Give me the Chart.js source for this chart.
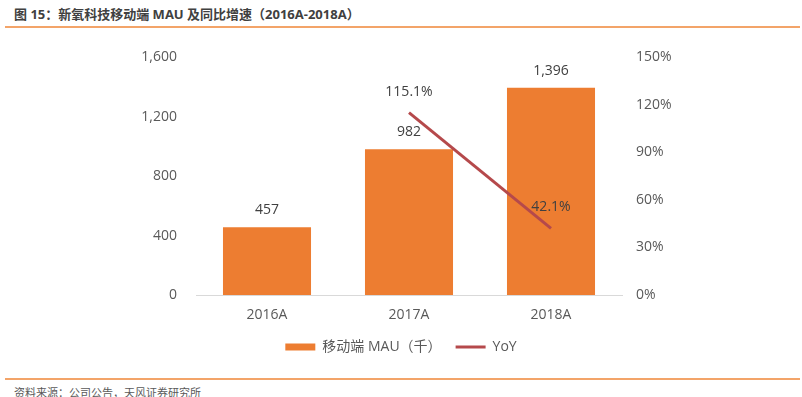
<!DOCTYPE html>
<html>
<head>
<meta charset="utf-8">
<script src="https://cdn.jsdelivr.net/npm/chart.js@4.4.0/dist/chart.umd.min.js"></script>
<style>
    body { margin: 0; width: 802px; height: 397px; background: #fff; position: relative; overflow: hidden; font-family: 'Open Sans', 'Noto Sans CJK SC', sans-serif; }
    .titulo { position: absolute; left: 14px; top: 4px; font-size: 13px; font-weight: bold; color: #404040; white-space: nowrap; }
    .linha-topo { position: absolute; left: 5px; right: 2px; top: 26px; height: 2px; background: #F3A469; }
    .linha-base { position: absolute; left: 5px; right: 2px; top: 378px; height: 2px; background: #F3A469; }
    .fonte { position: absolute; left: 14px; top: 384px; font-size: 11px; color: #595959; white-space: nowrap; }
    .area { position: absolute; left: 0; top: 30px; width: 802px; height: 340px; }
</style>
</head>
<body>
<div class="titulo">图 15：新氧科技移动端 MAU 及同比增速（2016A-2018A）</div>
<div class="linha-topo"></div>
<div class="area"><canvas id="meuGrafico"></canvas></div>
<div class="linha-base"></div>
<div class="fonte">资料来源：公司公告，天风证券研究所</div>
<script>
const anos = ['2016A', '2017A', '2018A'];
const mau = [457, 982, 1396];
const yoy = [null, 115.1, 42.1];
const ticksMau = [0, 400, 800, 1200, 1600];
const ticksYoy = [0, 30, 60, 90, 120, 150];

const fonte = "'Open Sans', 'Noto Sans CJK SC', sans-serif";

document.addEventListener('DOMContentLoaded', function () {
    const ctx = document.getElementById('meuGrafico');

    // rotulos de dados acima das barras e da linha
    const rotulos = {
        id: 'rotulos',
        afterDatasetsDraw(chart) {
            const c = chart.ctx;
            c.save();
            c.font = '14px ' + fonte;
            c.fillStyle = '#404040';
            c.textAlign = 'center';
            c.textBaseline = 'middle';
            chart.getDatasetMeta(0).data.forEach(function (el, i) {
                c.fillText(mau[i].toLocaleString('en-US'), el.x, el.y - 17);
            });
            chart.getDatasetMeta(1).data.forEach(function (el, i) {
                if (yoy[i] === null) return;
                c.fillText(yoy[i].toFixed(1) + '%', el.x, el.y - 21);
            });
            c.restore();
        }
    };

    new Chart(ctx, {
        type: 'bar',
        data: {
            labels: anos,
            datasets: [{
                label: '移动端 MAU（千）',
                data: mau,
                backgroundColor: '#ED7D31',
                categoryPercentage: 1,
                barPercentage: 0.62,
                yAxisID: 'y',
                order: 1
            }, {
                type: 'line',
                label: 'YoY',
                data: yoy,
                borderColor: '#B5494B',
                backgroundColor: '#B5494B',
                borderWidth: 3,
                pointRadius: 0,
                yAxisID: 'y1',
                order: 0
            }]
        },
        options: {
            responsive: true,
            maintainAspectRatio: false,
            animation: false,
            layout: { padding: { top: 25, bottom: 6 } },
            plugins: {
                tooltip: { enabled: false },
                legend: {
                    position: 'bottom',
                    labels: {
                        color: '#595959',
                        font: { size: 14, family: fonte },
                        usePointStyle: true,
                        pointStyleWidth: 30,
                        boxHeight: 7,
                        padding: 14,
                        generateLabels(chart) {
                            const itens = Chart.defaults.plugins.legend.labels.generateLabels(chart);
                            itens.sort((a, b) => a.datasetIndex - b.datasetIndex);
                            itens.forEach(function (it) {
                                const barra = it.datasetIndex === 0;
                                it.pointStyle = barra ? 'rect' : 'line';
                                it.lineWidth = barra ? 0 : 3;
                                it.fillStyle = barra ? '#ED7D31' : '#B5494B';
                                it.strokeStyle = barra ? '#ED7D31' : '#B5494B';
                            });
                            return itens;
                        }
                    }
                }
            },
            scales: {
                x: {
                    grid: { display: false, drawTicks: false },
                    border: { display: true, color: '#D9D9D9', width: 1 },
                    ticks: { color: '#595959', font: { size: 14, family: fonte }, padding: 12 },
                    afterFit(s) { s.height = 31; }
                },
                y: {
                    position: 'left',
                    min: 0,
                    max: 1600,
                    grid: { display: false, drawTicks: false },
                    border: { display: false },
                    afterBuildTicks(s) { s.ticks = ticksMau.map(v => ({ value: v })); },
                    ticks: {
                        color: '#595959',
                        font: { size: 14, family: fonte },
                        padding: 19,
                        callback: v => v.toLocaleString('en-US')
                    },
                    afterFit(s) { s.width = 196; }
                },
                y1: {
                    position: 'right',
                    min: 0,
                    max: 150,
                    grid: { display: false, drawTicks: false },
                    border: { display: false },
                    afterBuildTicks(s) { s.ticks = ticksYoy.map(v => ({ value: v })); },
                    ticks: {
                        color: '#595959',
                        font: { size: 14, family: fonte },
                        padding: 14,
                        callback: v => v + '%'
                    },
                    afterFit(s) { s.width = 180; }
                }
            }
        },
        plugins: [rotulos]
    });
});
</script>
</body>
</html>
